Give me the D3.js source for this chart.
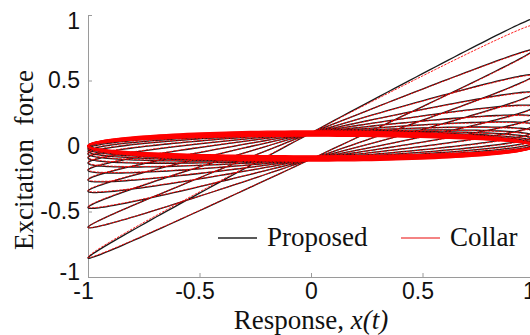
<!DOCTYPE html>
<html><head><meta charset="utf-8">
<script src="https://cdn.jsdelivr.net/npm/d3@7"></script>
<style>
html,body{margin:0;padding:0;background:#fff;overflow:hidden}
svg{display:block}
</style></head><body>
<svg id="chart" width="530" height="335"></svg>
<script>
// Peak force at each turning point of the response (x = +1, -1, +1, ...)
const proposedPeaks = [0.97, -0.855, 0.735, -0.62, 0.54, -0.47, 0.405, -0.345, 0.3, -0.26, 0.22, -0.185, 0.16, -0.13, 0.11, -0.09, 0.075, -0.06, 0.05, -0.04, 0.03, -0.022, 0.015, -0.01, 0.006, -0.003, 0.0];
const collarPeaks = [0.92, -0.85, 0.73, -0.62, 0.535, -0.465, 0.4, -0.34, 0.295, -0.255, 0.215, -0.18, 0.155, -0.125, 0.105, -0.085, 0.07, -0.055, 0.045, -0.035, 0.025, -0.018, 0.012, -0.007, 0.004, 0.0];
// Force where the transient loops cross zero response
const proposedCrossing = 0.1;
const collarCrossing = 0.1;
// Settled cycles: force at zero response for each one
const proposedSettled = [0.085, 0.09, 0.095, 0.1, 0.105];
const collarSettled = [0.075, 0.08, 0.085, 0.09, 0.095, 0.1, 0.105, 0.11, 0.115];
const xTicks = [-1, -0.5, 0, 0.5, 1];
const yTicks = [-1, -0.5, 0, 0.5, 1];
const legendLabels = ["Proposed", "Collar"];
const xTitle = ["Response, ", "x(t)"];
const yTitle = "Excitation  force";

const svg = d3.select("#chart");
const x = d3.scaleLinear().domain([-1, 1]).range([88, 534]);
const y = d3.scaleLinear().domain([-1, 1]).range([277, 15]);

const SERIF = "'Liberation Serif','Times New Roman',serif";
const SANS = "'Liberation Sans',Arial,sans-serif";

// Response swings between turning points; the force peak eases from one turning value to the next
function transient(peaks, c, steps) {
  const pts = [];
  for (let i = 0; i < peaks.length - 1; i++) {
    const k0 = Math.abs(peaks[i]), k1 = Math.abs(peaks[i + 1]);
    for (let s = 0; s <= steps; s++) {
      if (i > 0 && s === 0) continue;
      const u = s / steps, th = (i + u) * Math.PI;
      const k = k0 + (k1 - k0) * u;
      pts.push([Math.cos(th), k * Math.cos(th) + c * Math.sin(th)]);
    }
  }
  return pts;
}
function cycle(c, steps) {
  const pts = [];
  for (let s = 0; s <= steps; s++) {
    const th = 2 * Math.PI * s / steps;
    pts.push([Math.cos(th), c * Math.sin(th)]);
  }
  return pts;
}

const line = d3.line().x(d => x(d[0])).y(d => y(d[1]));

// axes (plain hyphen minus in the tick labels)
const gx = svg.append("g").attr("transform", `translate(0,${y(-1)})`)
  .call(d3.axisBottom(x).tickValues(xTicks).tickSizeInner(-4).tickSizeOuter(0).tickPadding(6)
    .tickFormat(d => String(d)));
const gy = svg.append("g").attr("transform", `translate(${x(-1)},0)`)
  .call(d3.axisLeft(y).tickValues(yTicks).tickSizeInner(-4).tickSizeOuter(0).tickPadding(8)
    .tickFormat(d => String(d)));
[gx, gy].forEach(g => {
  g.select(".domain").attr("stroke", "#9a9a9a").attr("stroke-width", 1);
  g.selectAll(".tick line").attr("stroke", "#9a9a9a");
  g.selectAll(".tick text").attr("fill", "#111").style("font-family", SANS).style("font-size", "23px");
});
gx.selectAll(".tick text").attr("dx", d => d === 0 ? 0 : -5);
gy.selectAll(".tick text").attr("dy", d => d === 1 ? "0.6em" : (d === -1 ? "0.12em" : "0.32em"));

const plot = svg.append("g");

// Proposed (black)
plot.append("path").attr("d", line(transient(proposedPeaks, proposedCrossing, 90)))
  .attr("fill", "none").attr("stroke", "#1a1a1a").attr("stroke-width", 1.3);
plot.selectAll(".ps").data(proposedSettled).enter().append("path")
  .attr("d", c => line(cycle(c, 160)))
  .attr("fill", "none").attr("stroke", "#1a1a1a").attr("stroke-width", 1.2);

// Collar (red)
plot.append("path").attr("d", line(transient(collarPeaks, collarCrossing, 90)))
  .attr("fill", "none").attr("stroke", "#ff0000").attr("stroke-width", 0.9)
  .attr("stroke-dasharray", "2.5,1.2");
plot.selectAll(".cs").data(collarSettled).enter().append("path")
  .attr("d", c => line(cycle(c, 160)))
  .attr("fill", "none").attr("stroke", "#ff0000").attr("stroke-width", 1.3);

// legend
const legend = svg.append("g");
const legendColors = ["#222", "#f05a5a"];
const legendX = [218, 401];
legendLabels.forEach((lab, i) => {
  legend.append("line").attr("x1", legendX[i]).attr("x2", legendX[i] + 39)
    .attr("y1", 238).attr("y2", 238)
    .attr("stroke", legendColors[i]).attr("stroke-width", 1.5);
  legend.append("text").attr("x", legendX[i] + 49).attr("y", 246)
    .style("font-family", SERIF).style("font-size", "27px").attr("fill", "#111").text(lab);
});

// axis titles
const xt = svg.append("text").attr("x", 311).attr("y", 329).attr("text-anchor", "middle")
  .style("font-family", SERIF).style("font-size", "27px").attr("fill", "#111");
xt.append("tspan").text(xTitle[0]);
xt.append("tspan").style("font-style", "italic").text(xTitle[1]);
svg.append("text").attr("transform", "translate(33,160) rotate(-90)").attr("text-anchor", "middle")
  .style("font-family", SERIF).style("font-size", "27px").attr("fill", "#111")
  .attr("xml:space", "preserve").style("white-space", "pre").text(yTitle);
</script>
</body></html>
